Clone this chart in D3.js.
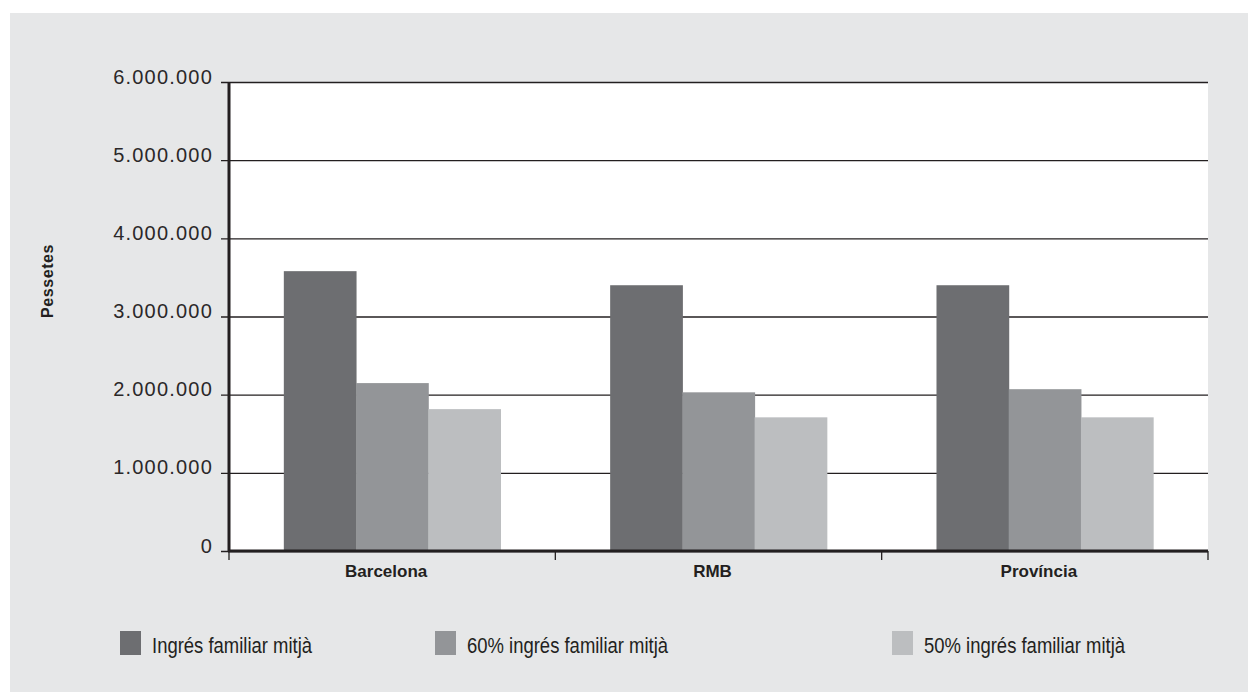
<!DOCTYPE html>
<html>
<head>
<meta charset="utf-8">
<script src="https://cdn.jsdelivr.net/npm/d3@7"></script>
<style>
  html, body { margin: 0; padding: 0; background: #ffffff; }
  svg { display: block; }
</style>
</head>
<body>
<svg id="chart" width="1248" height="693"></svg>
<script>
// ---- data ----
const categories = ["Barcelona", "RMB", "Província"];
const seriesNames = ["Ingrés familiar mitjà", "60% ingrés familiar mitjà", "50% ingrés familiar mitjà"];
const seriesIngres = [3580000, 3400000, 3400000];
const series60 = [2148000, 2030000, 2070000];
const series50 = [1815000, 1710000, 1710000];
const yTicks = [0, 1000000, 2000000, 3000000, 4000000, 5000000, 6000000];
const yTitle = "Pessetes";
const colors = ["#6d6e71", "#939598", "#bcbec0"];

const seriesValues = [seriesIngres, series60, series50];

// ---- layout ----
const W = 1248, H = 693;
const plot = { left: 229, right: 1208, top: 82, bottom: 551 };
const svg = d3.select("#chart");
const ink = "#231f20";

// background panel
svg.append("rect").attr("x", 10).attr("y", 13).attr("width", W - 10).attr("height", 679)
  .attr("fill", "#e6e7e8");
// plot area
svg.append("rect").attr("x", plot.left).attr("y", plot.top)
  .attr("width", plot.right - plot.left).attr("height", plot.bottom - plot.top)
  .attr("fill", "#ffffff");

const x = d3.scaleBand().domain(categories).range([plot.left, plot.right]).padding(0);
const groupPad = x.bandwidth() * 0.168;
const xs = d3.scaleBand().domain(d3.range(seriesNames.length))
  .range([groupPad, x.bandwidth() - groupPad]).padding(0);
const y = d3.scaleLinear().domain([0, 6000000]).range([plot.bottom, plot.top]);

const locale = d3.formatLocale({ decimal: ",", thousands: ".", grouping: [3], currency: ["", ""] });
const fmt = locale.format(",d");

// gridlines + y axis ticks
const yAxis = d3.axisLeft(y).tickValues(yTicks).tickSize(-(plot.right - plot.left)).tickSizeOuter(0)
  .tickFormat(fmt).tickPadding(8);
const gy = svg.append("g").attr("transform", `translate(${plot.left},0)`).call(yAxis);
gy.select(".domain").remove();
gy.selectAll(".tick line").attr("stroke", ink).attr("stroke-width", 1.4)
  .attr("x1", -8).attr("x2", plot.right - plot.left);
gy.selectAll(".tick text")
  .attr("x", -16)
  .attr("dy", "0.05em")
  .attr("fill", "#2b2829")
  .style("font-family", "'Liberation Sans', Arial, sans-serif")
  .style("font-size", "20px")
  .style("letter-spacing", "1.2px");

// bars
const groups = svg.append("g").selectAll("g").data(categories).join("g")
  .attr("transform", d => `translate(${x(d)},0)`);
groups.selectAll("rect")
  .data((c, ci) => seriesValues.map((s, si) => ({ si, v: s[ci] })))
  .join("rect")
  .attr("x", d => xs(d.si))
  .attr("width", xs.bandwidth() + 0.5)
  .attr("y", d => y(d.v))
  .attr("height", d => y(0) - y(d.v))
  .attr("fill", d => colors[d.si]);

// x axis
const xAxis = d3.axisBottom(x).tickSize(0).tickSizeOuter(0).tickPadding(14);
const gx = svg.append("g").attr("transform", `translate(0,${plot.bottom})`).call(xAxis);
gx.select(".domain").remove();
gx.selectAll(".tick text")
  .attr("dx", -6)
  .attr("fill", ink)
  .style("font-family", "'Liberation Sans', Arial, sans-serif")
  .style("font-size", "17px")
  .style("font-weight", "bold");
// boundary ticks
const bounds = categories.map(c => x(c)).concat([x(categories[categories.length - 1]) + x.bandwidth()]);
svg.append("g").selectAll("line").data(bounds).join("line")
  .attr("x1", d => d).attr("x2", d => d)
  .attr("y1", plot.bottom).attr("y2", plot.bottom + 9)
  .attr("stroke", ink).attr("stroke-width", 1.3);

// axis lines
svg.append("line").attr("x1", plot.left).attr("x2", plot.left)
  .attr("y1", plot.top).attr("y2", plot.bottom + 1)
  .attr("stroke", ink).attr("stroke-width", 3);
svg.append("line").attr("x1", plot.left - 1).attr("x2", plot.right)
  .attr("y1", plot.bottom).attr("y2", plot.bottom)
  .attr("stroke", ink).attr("stroke-width", 3);

// y title
svg.append("text")
  .attr("transform", `translate(53,281) rotate(-90)`)
  .attr("text-anchor", "middle")
  .attr("fill", ink)
  .style("font-family", "'Liberation Sans', Arial, sans-serif")
  .style("font-size", "16px")
  .style("font-weight", "bold")
  .style("letter-spacing", "0.6px")
  .text(yTitle);

// legend
const legendX = [120, 435, 892];
const lg = svg.append("g").selectAll("g").data(seriesNames).join("g")
  .attr("transform", (d, i) => `translate(${legendX[i]},631)`);
lg.append("rect").attr("width", 21).attr("height", 24).attr("fill", (d, i) => colors[i]);
lg.append("text")
  .attr("transform", "translate(32,22) scale(0.84,1)")
  .attr("fill", ink)
  .style("font-family", "'Liberation Sans', Arial, sans-serif")
  .style("font-size", "22px")
  .text(d => d);
</script>
</body>
</html>
